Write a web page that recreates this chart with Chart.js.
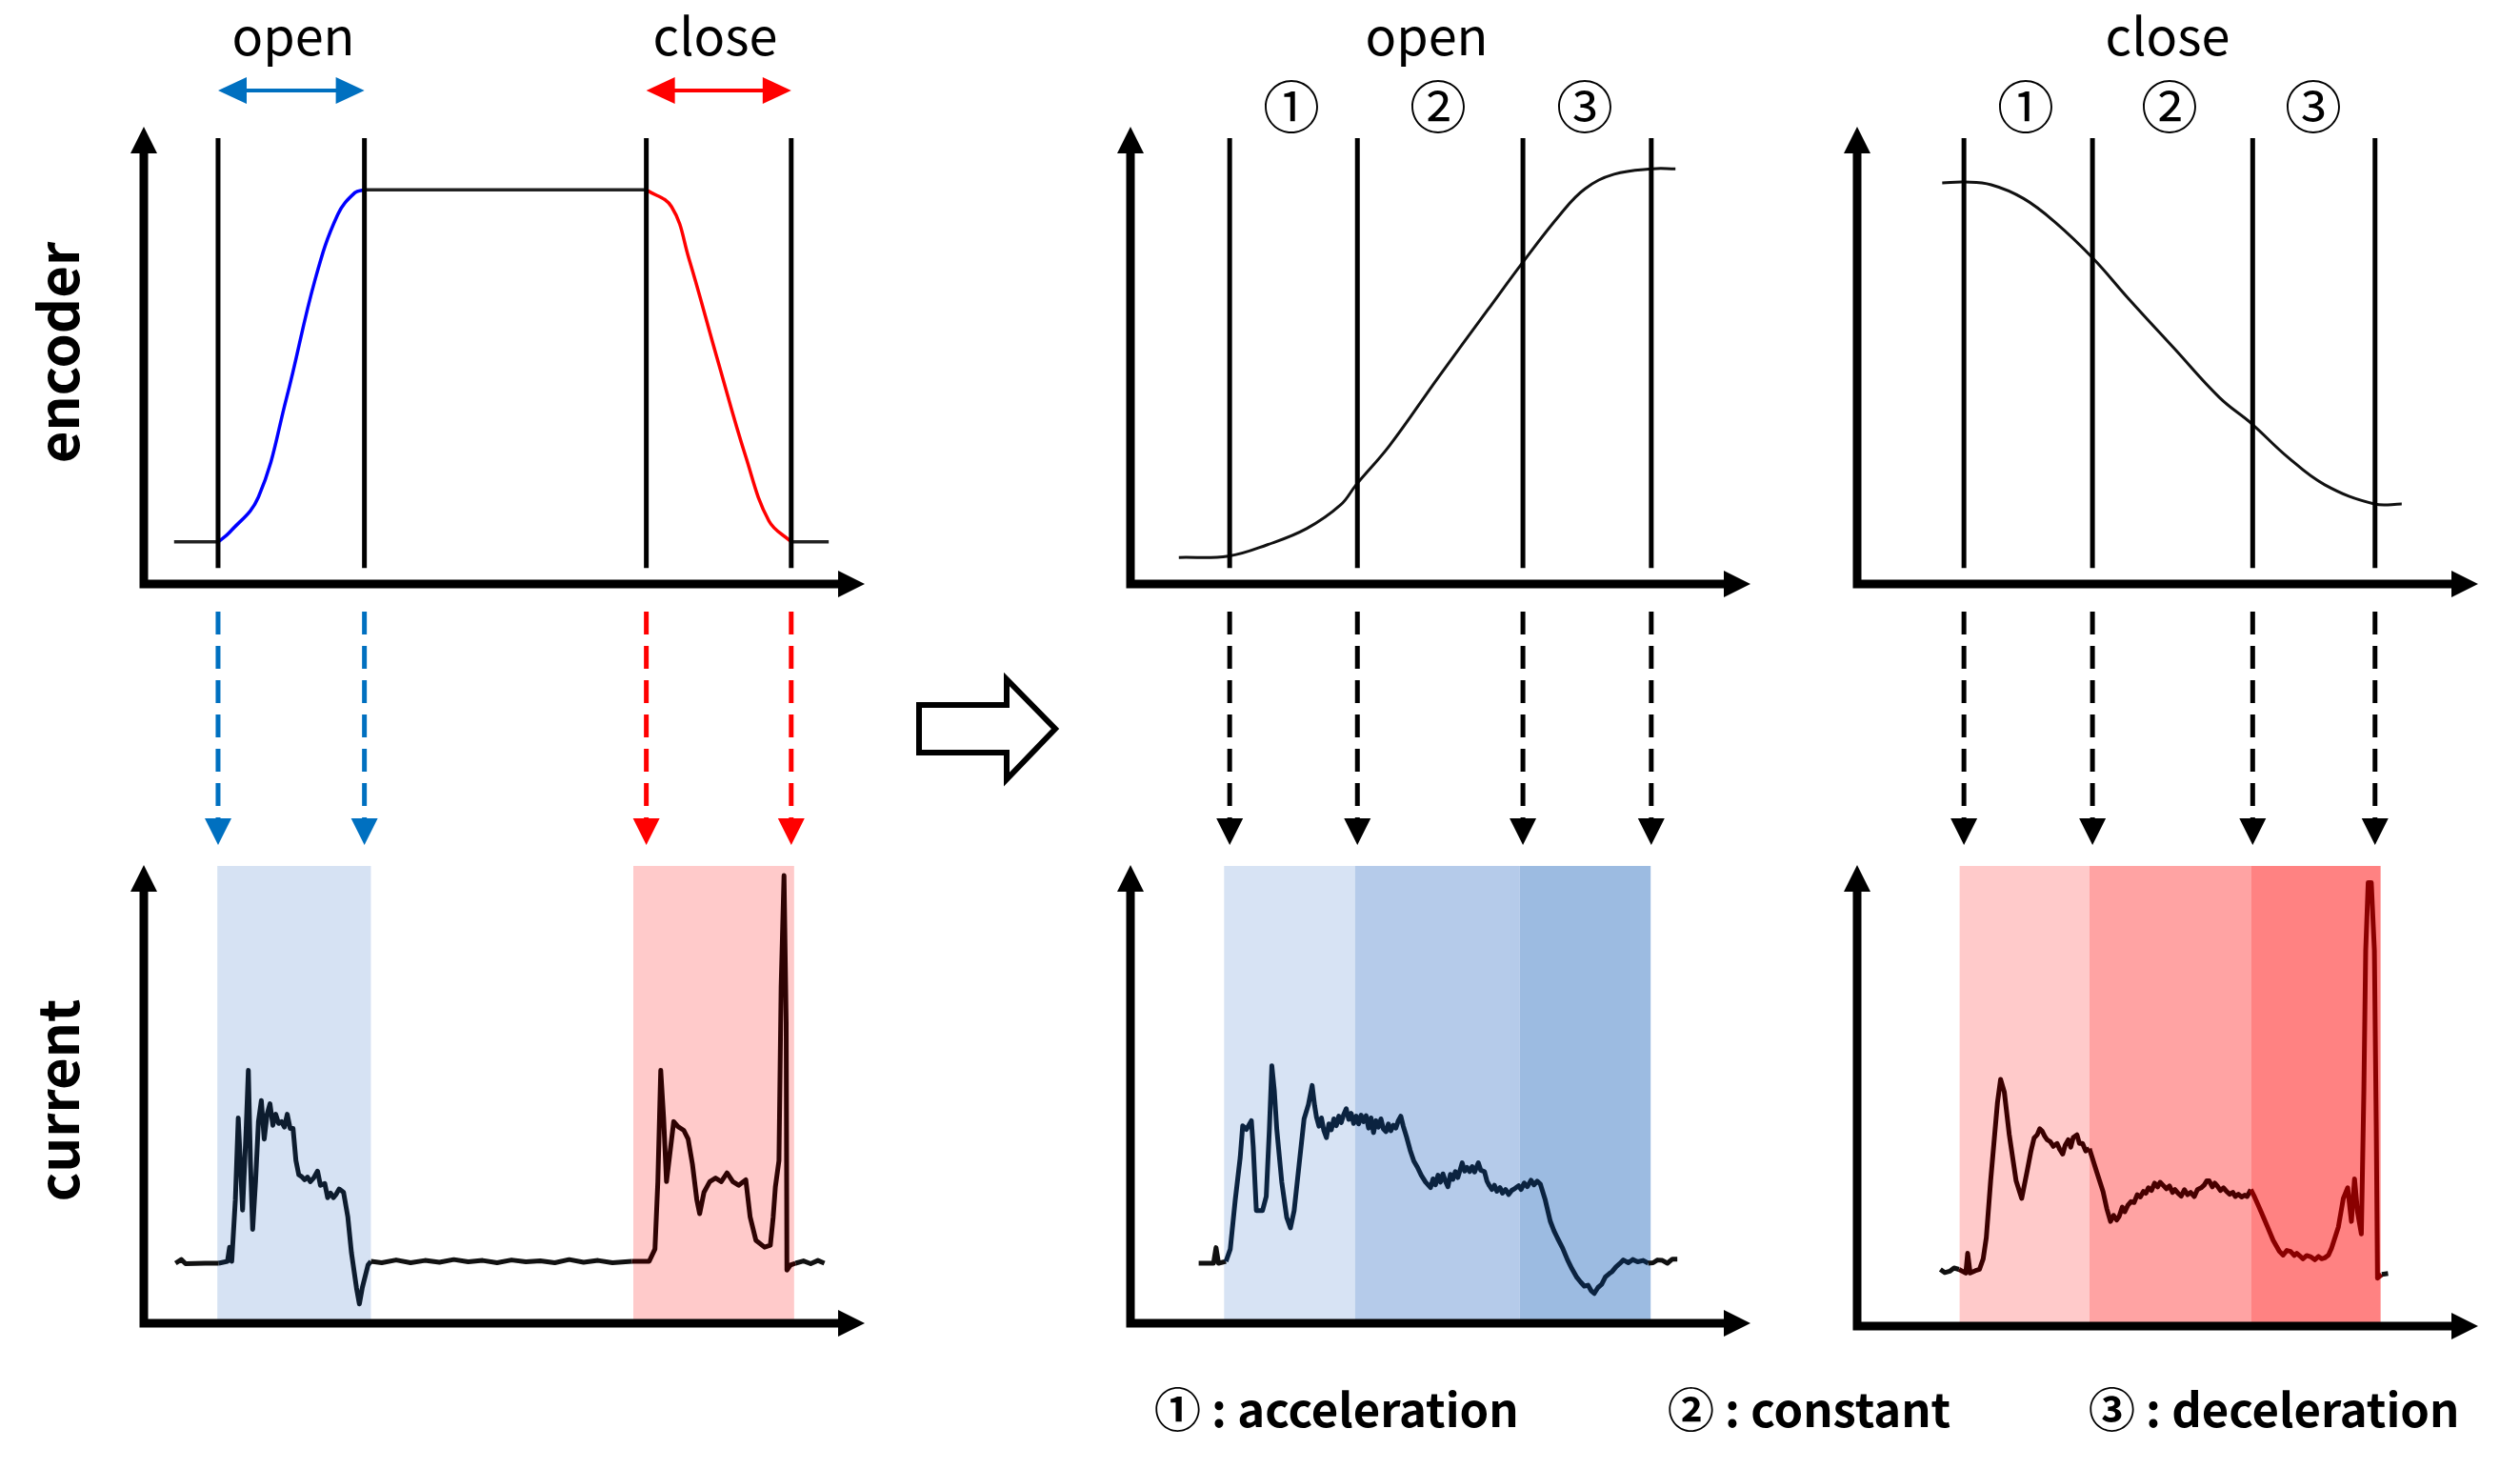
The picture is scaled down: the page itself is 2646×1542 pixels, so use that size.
<!DOCTYPE html>
<html>
<head>
<meta charset="utf-8">
<script src="https://cdn.jsdelivr.net/npm/chart.js@4.4.1/dist/chart.umd.min.js"></script>
<style>
  html, body { margin: 0; padding: 0; background: #fff; }
  #page { position: relative; width: 2646px; height: 1542px; overflow: hidden;
          font-family: "Noto Sans CJK KR", "Noto Sans", sans-serif; color: #000; }
  .panel { position: absolute; }
  .lbl { position: absolute; white-space: nowrap; line-height: 1; }
  .ttl { font-size: 54px; top: 8px; transform: translateX(-50%); }
  .num { font-size: 60px; top: 79px; transform: translateX(-50%); }
  .side { font-size: 58px; font-weight: bold; transform: translate(-50%, -50%) rotate(-90deg); }
  .key { font-size: 49px; font-weight: bold; top: 1452px; }
</style>
</head>
<body>
<div id="page">
  <div class="panel" style="left:111px;top:60px;width:837px;height:840px"><canvas id="cycleEnc"></canvas></div>
  <div class="panel" style="left:1147px;top:60px;width:731px;height:840px"><canvas id="openEnc"></canvas></div>
  <div class="panel" style="left:1910px;top:60px;width:732px;height:840px"><canvas id="closeEnc"></canvas></div>
  <div class="panel" style="left:111px;top:880px;width:837px;height:550px"><canvas id="cycleCur"></canvas></div>
  <div class="panel" style="left:1147px;top:880px;width:731px;height:550px"><canvas id="openCur"></canvas></div>
  <div class="panel" style="left:1910px;top:880px;width:732px;height:550px"><canvas id="closeCur"></canvas></div>

  <svg style="position:absolute;left:0;top:0" width="2646" height="1542">
    <polygon points="965,740 1057,740 1057,713 1108,765 1057,818 1057,790 965,790"
             fill="#fff" stroke="#000" stroke-width="6" stroke-linejoin="miter"/>
  </svg>

  <div class="lbl ttl" style="left:308px">open</div>
  <div class="lbl ttl" style="left:751px">close</div>
  <div class="lbl ttl" style="left:1498px">open</div>
  <div class="lbl ttl" style="left:2276px">close</div>
  <div class="lbl num" style="left:1356px">①</div>
  <div class="lbl num" style="left:1510px">②</div>
  <div class="lbl num" style="left:1664px">③</div>
  <div class="lbl num" style="left:2127px">①</div>
  <div class="lbl num" style="left:2278px">②</div>
  <div class="lbl num" style="left:2429px">③</div>
  <div class="lbl side" style="left:58px;top:370px">encoder</div>
  <div class="lbl side" style="left:58px;top:1155px">current</div>
  <div class="lbl key" style="left:1212px">① : acceleration</div>
  <div class="lbl key" style="left:1751px">② : constant</div>
  <div class="lbl key" style="left:2193px">③ : deceleration</div>
</div>

<script>
// x = % of time axis, y = % of axis height

// full open / close cycle (left column)
const cycleMarks = [10.3, 30.6, 69.7, 89.8];
const cycleBands = [[10.2, 31.5], [67.9, 90.2]];
const encRestBefore = [[4.2, 9.2], [10.3, 9.2]];
const encOpenRise = [[10.3, 9.2], [11.9, 11.3], [15.9, 19.0], [19.8, 40.7], [23.8, 66.8], [26.9, 80.8], [29.3, 85.6], [30.6, 86.2]];
const encHoldOpen = [[30.6, 86.2], [69.7, 86.2]];
const encCloseFall = [[69.7, 86.2], [73.2, 82.5], [75.6, 71.2], [79.5, 49.5], [83.5, 27.8], [86.7, 13.8], [89.8, 9.2]];
const encRestAfter = [[89.8, 9.2], [95.0, 9.2]];
const cycleCurrent = [
  [4.4, 13.1], [5.2, 13.9], [5.8, 13.0], [8.5, 13.1], [10.4, 13.1], [11.6, 13.5], [11.9, 16.6], [12.2, 13.5],
  [12.7, 27.0], [13.1, 44.8], [13.4, 34.7], [13.7, 24.7], [14.2, 42.5], [14.5, 55.2], [14.8, 34.7], [15.1, 20.5],
  [15.5, 30.9], [15.9, 44.0], [16.3, 48.6], [16.7, 40.2], [17.1, 45.6], [17.5, 47.9], [17.9, 43.2], [18.3, 45.6],
  [18.7, 43.6], [19.1, 44.0], [19.5, 42.8], [19.9, 45.6], [20.3, 42.5], [20.7, 42.5], [21.1, 35.5], [21.5, 32.4],
  [21.9, 32.0], [22.3, 31.3], [22.7, 31.9], [23.1, 30.9], [23.6, 31.8], [24.1, 33.2], [24.5, 30.1], [25.1, 30.5],
  [25.5, 27.4], [25.9, 28.4], [26.3, 27.4], [26.7, 28.2], [27.1, 29.3], [27.7, 28.6], [28.3, 23.2],
  [28.8, 15.4], [29.5, 7.7], [29.9, 4.2], [30.3, 7.7], [31.1, 12.7], [31.5, 13.5],
  [33.0, 13.2], [35.0, 13.8], [37.0, 13.2], [39.0, 13.7], [41.0, 13.3], [43.0, 13.9], [45.0, 13.4], [47.0, 13.7],
  [49.0, 13.2], [51.0, 13.8], [53.0, 13.4], [55.0, 13.6], [57.0, 13.2], [59.0, 13.9], [61.0, 13.3], [63.0, 13.7],
  [65.0, 13.2], [67.7, 13.5], [70.1, 13.5], [70.9, 16.2], [71.3, 30.9], [71.7, 55.2], [72.1, 44.8], [72.5, 30.9],
  [73.5, 44.0], [74.1, 42.9], [74.9, 42.1], [75.5, 40.2], [76.1, 34.7], [76.7, 27.0], [77.1, 23.9], [77.7, 28.6],
  [78.5, 30.9], [79.3, 31.7], [80.1, 30.9], [80.9, 32.8], [81.7, 30.9], [82.5, 30.1], [83.5, 31.3], [84.1, 23.2],
  [84.9, 18.1], [86.1, 16.6], [86.9, 17.0], [87.3, 23.2], [87.6, 29.7], [88.1, 35.5], [88.4, 73.4], [88.8, 97.7],
  [89.1, 65.6], [89.2, 11.6], [89.7, 12.7], [90.4, 13.1], [91.5, 13.6], [92.5, 13.0], [93.5, 13.7], [94.4, 13.1]
];

// opening stroke, split into phases (middle column)
const openMarks = [16.0, 36.6, 63.3, 84.0];
const openPhaseEdges = [15.1, 36.2, 62.8, 83.9];
const openEncoder = [[7.8, 5.8], [15.8, 6.1], [22.1, 8.6], [28.4, 12.1], [33.9, 17.3], [36.4, 21.7], [41.8, 30.3],
  [49.6, 45.1], [57.6, 59.9], [63.3, 70.4], [69.3, 80.8], [73.3, 86.4], [78.0, 89.6], [84.2, 90.8], [87.9, 90.8]];
const openCurrent = [
  [11.0, 13.1], [13.4, 13.1], [13.8, 16.5], [14.2, 13.1], [15.4, 13.5], [16.1, 16.2], [16.9, 26.9], [17.7, 36.2],
  [18.1, 43.1], [18.7, 42.3], [19.5, 44.2], [19.8, 38.5], [20.3, 24.6], [21.3, 24.6], [21.9, 27.7], [22.4, 42.3],
  [22.8, 56.2], [23.2, 50.8], [23.6, 42.3], [24.4, 30.8], [25.2, 23.1], [25.8, 20.8], [26.4, 24.6], [27.2, 34.6],
  [28.0, 44.6], [28.7, 47.7], [29.3, 51.9], [29.7, 47.5], [30.0, 45.0], [30.4, 43.0], [30.8, 44.8], [31.2, 42.0],
  [31.6, 40.5], [32.0, 43.5], [32.4, 42.2], [32.8, 44.6], [33.2, 43.1], [33.6, 45.2], [34.0, 43.8], [34.4, 45.6],
  [34.8, 46.8], [35.2, 44.5], [35.6, 45.8], [36.0, 43.6], [36.4, 45.2], [36.8, 43.5], [37.2, 45.4], [37.6, 44.0],
  [38.0, 45.3], [38.4, 42.6], [38.8, 44.8], [39.2, 41.6], [39.6, 44.2], [40.0, 42.8], [40.4, 44.6], [40.8, 42.4],
  [41.2, 41.8], [41.6, 43.5], [42.0, 42.0], [42.4, 43.2], [42.8, 42.6], [43.2, 44.2], [43.6, 45.2], [44.0, 43.0],
  [44.5, 40.8], [45.1, 37.8], [45.7, 35.4], [46.3, 34.0], [46.9, 32.3], [47.6, 30.8], [48.4, 29.6], [48.8, 31.5],
  [49.2, 30.2], [49.6, 32.3], [50.0, 30.8], [50.4, 32.6], [50.8, 31.0], [51.2, 29.8], [51.6, 32.5], [52.0, 31.4],
  [52.4, 33.1], [52.8, 31.8], [53.2, 33.6], [53.5, 35.0], [53.9, 33.2], [54.3, 34.0], [54.7, 33.1], [55.1, 34.2],
  [55.5, 33.0], [56.1, 35.0], [56.5, 33.4], [57.1, 33.1], [57.5, 31.0], [57.9, 30.0], [58.3, 29.2], [58.7, 30.1],
  [59.1, 28.8], [59.6, 29.6], [60.0, 28.4], [60.5, 29.2], [61.0, 28.1], [61.5, 29.0], [62.0, 29.4], [62.6, 30.0],
  [63.0, 29.2], [63.5, 30.6], [64.0, 29.8], [64.6, 31.2], [65.1, 30.2], [65.6, 31.0], [66.1, 30.4], [66.9, 26.9],
  [67.7, 22.3], [68.3, 20.2], [68.9, 18.5], [69.7, 16.4], [70.5, 13.8], [71.2, 11.9], [72.0, 10.0], [72.6, 9.0],
  [73.2, 8.1], [73.8, 8.3], [74.3, 7.1], [74.8, 6.5], [75.4, 7.8], [76.0, 8.5], [76.6, 10.1], [77.2, 10.8],
  [77.7, 11.3], [78.3, 12.3], [78.9, 13.0], [79.5, 13.8], [80.3, 13.2], [81.0, 13.9], [81.8, 13.4], [82.7, 13.7],
  [83.5, 13.1], [84.3, 13.2], [85.0, 13.8], [85.8, 13.7], [86.6, 13.1], [87.4, 14.0], [88.2, 14.0]
];

// closing stroke, split into phases (right column)
const closeMarks = [17.2, 37.9, 63.7, 83.4];
const closePhaseEdges = [16.5, 37.4, 63.4, 84.3];
const closeEncoder = [[13.7, 87.7], [17.3, 87.9], [21.6, 87.3], [26.8, 84.3], [31.9, 79.1], [38.0, 71.2], [43.7, 62.4],
  [51.0, 51.6], [58.4, 40.7], [63.5, 35.1], [69.3, 27.8], [75.3, 21.7], [83.3, 17.5], [87.7, 17.5]];
const closeCurrent = [
  [13.4, 12.3], [14.1, 11.6], [14.9, 11.9], [15.6, 12.6], [16.4, 12.3], [17.5, 11.5], [17.8, 15.8], [18.2, 11.5],
  [19.0, 12.0], [19.7, 12.3], [20.3, 14.6], [20.8, 19.2], [21.5, 31.5], [22.1, 40.8], [22.6, 48.5], [23.1, 53.5],
  [23.7, 50.8], [24.5, 41.5], [25.6, 31.5], [26.5, 27.7], [27.4, 33.8], [28.0, 38.0], [28.5, 40.8], [29.0, 41.5],
  [29.4, 42.8], [29.8, 42.3], [30.2, 41.2], [30.6, 40.4], [31.1, 40.0], [31.6, 39.0], [32.2, 39.6], [32.6, 38.4],
  [33.1, 37.3], [33.5, 39.2], [34.0, 40.4], [34.4, 38.8], [34.8, 40.9], [35.4, 41.5], [35.8, 39.6], [36.3, 39.6],
  [36.8, 38.0], [37.4, 38.5], [38.5, 33.8], [39.6, 29.2], [40.2, 25.5], [40.8, 22.7], [41.3, 24.0], [41.8, 23.0],
  [42.2, 23.8], [42.7, 25.8], [43.1, 24.8], [43.6, 26.2], [44.1, 27.0], [44.6, 26.8], [45.1, 28.5], [45.6, 28.0],
  [46.1, 29.2], [46.5, 28.8], [46.9, 30.0], [47.4, 29.4], [47.9, 31.0], [48.4, 30.2], [48.8, 31.2], [49.3, 30.5],
  [49.8, 29.8], [50.3, 30.4], [50.8, 29.0], [51.2, 29.6], [51.7, 28.8], [52.2, 28.2], [52.7, 29.6], [53.2, 28.5],
  [53.7, 29.0], [54.3, 28.1], [54.8, 29.6], [55.4, 30.0], [55.9, 30.6], [56.3, 31.5], [56.7, 31.5], [57.2, 30.2],
  [57.6, 31.0], [58.0, 30.4], [58.5, 29.4], [59.0, 30.0], [59.5, 29.2], [60.0, 28.6], [60.5, 29.0], [60.9, 28.1],
  [61.4, 28.6], [61.9, 28.0], [62.4, 28.4], [62.8, 28.1], [63.4, 29.6], [64.0, 28.0], [64.6, 26.2], [65.3, 24.0],
  [66.1, 21.5], [67.0, 18.6], [68.0, 16.2], [68.6, 15.4], [69.2, 16.4], [69.8, 16.2], [70.4, 15.3], [70.8, 15.8],
  [71.3, 15.2], [71.8, 14.6], [72.4, 15.3], [73.1, 15.0], [73.7, 14.4], [74.3, 15.1], [74.8, 14.6], [75.3, 14.8],
  [75.9, 15.4], [76.4, 16.9], [77.5, 21.5], [78.3, 27.7], [79.0, 30.0], [79.6, 22.7], [80.1, 31.9], [80.6, 24.6],
  [81.2, 20.0], [81.6, 50.8], [81.9, 81.5], [82.3, 96.2], [82.8, 96.2], [83.3, 81.5], [83.6, 43.1], [83.8, 10.4],
  [84.5, 11.2], [85.5, 11.4]
];

const BLUE = '#0070c0', RED = '#ff0000';

function pts(arr) { return arr.map(p => ({ x: p[0], y: p[1] })); }

function curve(arr, color, width) {
  return { data: pts(arr), borderColor: color, borderWidth: width, pointRadius: 0, fill: false,
           tension: 0.4, clip: false };
}

// current trace, ink follows the shaded band it crosses
function trace(arr, bands, outside) {
  return {
    data: pts(arr), borderColor: outside, borderWidth: 5, pointRadius: 0, fill: false, tension: 0, clip: false,
    borderJoinStyle: 'round',
    segment: {
      borderColor: ctx => {
        const m = (ctx.p0.parsed.x + ctx.p1.parsed.x) / 2;
        const b = bands.find(b => m >= b.from && m < b.to);
        return b ? b.ink : outside;
      }
    }
  };
}

function tri(ctx, x, y, dir, len, half) {
  ctx.beginPath();
  if (dir === 'up') { ctx.moveTo(x, y); ctx.lineTo(x - half, y + len); ctx.lineTo(x + half, y + len); }
  if (dir === 'down') { ctx.moveTo(x, y); ctx.lineTo(x - half, y - len); ctx.lineTo(x + half, y - len); }
  if (dir === 'right') { ctx.moveTo(x, y); ctx.lineTo(x - len, y - half); ctx.lineTo(x - len, y + half); }
  if (dir === 'left') { ctx.moveTo(x, y); ctx.lineTo(x + len, y - half); ctx.lineTo(x + len, y + half); }
  ctx.closePath();
  ctx.fill();
}

const diagramPlugin = {
  id: 'diagram',
  beforeDatasetsDraw(chart, args, o) {
    const { ctx, chartArea: a, scales: { x, y } } = chart;
    ctx.save();
    (o.bands || []).forEach(b => {
      const l = x.getPixelForValue(b.from), r = x.getPixelForValue(b.to), t = y.getPixelForValue(99.8);
      ctx.fillStyle = b.fill;
      ctx.fillRect(l, t, r - l, a.bottom - t - 2);
    });
    ctx.restore();
  },
  afterDatasetsDraw(chart, args, o) {
    const { ctx, chartArea: a, scales: { x, y } } = chart;
    ctx.save();
    // phase boundaries on the encoder plots
    ctx.strokeStyle = '#000';
    ctx.lineWidth = 5;
    (o.marks || []).forEach(m => {
      const px = x.getPixelForValue(m);
      ctx.beginPath();
      ctx.moveTo(px, y.getPixelForValue(97.5));
      ctx.lineTo(px, y.getPixelForValue(3.5));
      ctx.stroke();
    });
    // axes with arrow heads
    ctx.lineWidth = 9;
    ctx.lineJoin = 'miter';
    ctx.beginPath();
    ctx.moveTo(a.left, a.top + 20);
    ctx.lineTo(a.left, a.bottom);
    ctx.lineTo(a.right - 20, a.bottom);
    ctx.stroke();
    ctx.fillStyle = '#000';
    tri(ctx, a.left, a.top, 'up', 28, 14);
    tri(ctx, a.right, a.bottom, 'right', 28, 14);
    // dashed arrows pointing down to the current plot
    (o.drops || []).forEach((m, i) => {
      const px = x.getPixelForValue(m), c = o.dropColors[i];
      ctx.strokeStyle = c;
      ctx.fillStyle = c;
      ctx.lineWidth = 5;
      ctx.setLineDash([24, 12]);
      ctx.beginPath();
      ctx.moveTo(px, a.bottom + 29);
      ctx.lineTo(px, a.bottom + 250);
      ctx.stroke();
      ctx.setLineDash([]);
      tri(ctx, px, a.bottom + 274, 'down', 28, 14);
    });
    // open / close span arrows above the left encoder plot
    (o.spans || []).forEach(s => {
      const l = x.getPixelForValue(s.from), r = x.getPixelForValue(s.to), py = a.top - 38;
      ctx.strokeStyle = s.color;
      ctx.fillStyle = s.color;
      ctx.lineWidth = 4;
      ctx.beginPath();
      ctx.moveTo(l + 20, py);
      ctx.lineTo(r - 20, py);
      ctx.stroke();
      tri(ctx, l, py, 'left', 30, 14);
      tri(ctx, r, py, 'right', 30, 14);
    });
    ctx.restore();
  }
};

function makeChart(id, datasets, opts, pad) {
  return new Chart(document.getElementById(id), {
    type: 'line',
    data: { datasets },
    options: {
      responsive: true, maintainAspectRatio: false, animation: false, events: [],
      layout: { padding: pad },
      scales: {
        x: { type: 'linear', min: 0, max: 100, display: false },
        y: { type: 'linear', min: 0, max: 100, display: false }
      },
      plugins: { legend: { display: false }, tooltip: { enabled: false }, diagram: opts }
    },
    plugins: [diagramPlugin]
  });
}

const topPad = { left: 40, right: 40, top: 73, bottom: 287 };

makeChart('cycleEnc', [
  curve(encRestBefore, '#222', 3.5),
  curve(encOpenRise, '#0000ff', 3.5),
  curve(encHoldOpen, '#222', 3.5),
  curve(encCloseFall, '#ff0000', 3.5),
  curve(encRestAfter, '#222', 3.5)
], {
  marks: cycleMarks,
  drops: cycleMarks, dropColors: [BLUE, BLUE, RED, RED],
  spans: [{ from: cycleMarks[0], to: cycleMarks[1], color: BLUE }, { from: cycleMarks[2], to: cycleMarks[3], color: RED }]
}, topPad);

makeChart('openEnc', [curve(openEncoder, '#111', 3)], {
  marks: openMarks, drops: openMarks, dropColors: ['#000', '#000', '#000', '#000']
}, topPad);

makeChart('closeEnc', [curve(closeEncoder, '#111', 3)], {
  marks: closeMarks, drops: closeMarks, dropColors: ['#000', '#000', '#000', '#000']
}, topPad);

const cycleShade = [
  { from: cycleBands[0][0], to: cycleBands[0][1], fill: '#d6e2f3', ink: '#0d1c2e' },
  { from: cycleBands[1][0], to: cycleBands[1][1], fill: '#ffcaca', ink: '#2e0303' }
];
const openShade = [
  { from: openPhaseEdges[0], to: openPhaseEdges[1], fill: '#d7e3f4', ink: '#0b2340' },
  { from: openPhaseEdges[1], to: openPhaseEdges[2], fill: '#b5cbea', ink: '#0b2340' },
  { from: openPhaseEdges[2], to: openPhaseEdges[3], fill: '#9cbbe1', ink: '#0b2340' }
];
const closeShade = [
  { from: closePhaseEdges[0], to: closePhaseEdges[1], fill: '#ffcaca', ink: '#3a0000' },
  { from: closePhaseEdges[1], to: closePhaseEdges[2], fill: '#ffa3a3', ink: '#480000' },
  { from: closePhaseEdges[2], to: closePhaseEdges[3], fill: '#ff8282', ink: '#8a0000' }
];

makeChart('cycleCur', [trace(cycleCurrent, cycleShade, '#111')], { bands: cycleShade },
  { left: 40, right: 40, top: 28, bottom: 41 });
makeChart('openCur', [trace(openCurrent, openShade, '#111')], { bands: openShade },
  { left: 40, right: 40, top: 28, bottom: 41 });
makeChart('closeCur', [trace(closeCurrent, closeShade, '#111')], { bands: closeShade },
  { left: 40, right: 40, top: 28, bottom: 38 });
</script>
</body>
</html>
